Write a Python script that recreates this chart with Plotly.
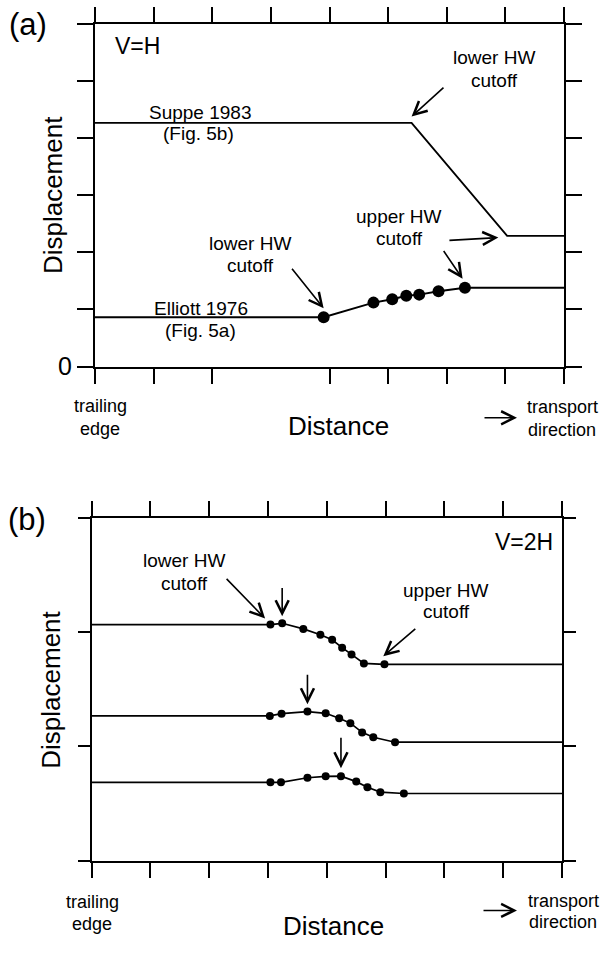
import plotly.graph_objects as go

W, H = 609, 953
FONT = "Liberation Sans, Arial, Helvetica, sans-serif"

# ---------------- data: panel (a) V=H ----------------
a_xticks_bottom = [0, 1, 2, 4, 5, 6, 7, 8]
a_xticks_top = [0, 1, 2, 3, 4, 5, 6, 7, 8]
a_yticks = [0, 1, 2, 3, 4, 5, 6]
a_ytext = ["0", "", "", "", "", "", ""]

suppe_x = [0, 5.40, 7.03, 8]
suppe_y = [4.27, 4.27, 2.29, 2.29]

elliott_x = [0, 3.90, 4.75, 5.07, 5.31, 5.53, 5.86, 6.31, 8]
elliott_y = [0.864, 0.864, 1.12, 1.18, 1.24, 1.26, 1.32, 1.38, 1.38]
elliott_dot_x = [3.90, 4.75, 5.07, 5.31, 5.53, 5.86, 6.31]
elliott_dot_y = [0.864, 1.12, 1.18, 1.24, 1.26, 1.32, 1.38]

# ---------------- data: panel (b) V=2H ----------------
b_xticks = [0, 1, 2, 3, 4, 5, 6, 7, 8]
b_yticks = [0, 1, 2, 3]

top_dot_x = [3.04, 3.24, 3.60, 3.89, 4.09, 4.26, 4.42, 4.63, 4.98]
top_dot_y = [2.067, 2.078, 2.029, 1.978, 1.934, 1.865, 1.805, 1.727, 1.719]
mid_dot_x = [3.03, 3.23, 3.67, 3.98, 4.21, 4.40, 4.60, 4.79, 5.16]
mid_dot_y = [1.267, 1.287, 1.305, 1.290, 1.247, 1.204, 1.123, 1.080, 1.037]
bot_dot_x = [3.04, 3.22, 3.67, 3.98, 4.24, 4.50, 4.69, 4.91, 5.31]
bot_dot_y = [0.686, 0.686, 0.726, 0.738, 0.740, 0.692, 0.643, 0.600, 0.588]
b_x_start, b_x_end = 0, 8


def px(x):
    return x / W


def py(y):
    return 1 - y / H


fig = go.Figure()
LINE = dict(color="black", width=1.9)

fig.add_trace(go.Scatter(x=suppe_x, y=suppe_y, mode="lines", line=LINE,
                         xaxis="x", yaxis="y", hoverinfo="skip", showlegend=False))
fig.add_trace(go.Scatter(x=elliott_x, y=elliott_y, mode="lines", line=LINE,
                         xaxis="x", yaxis="y", hoverinfo="skip", showlegend=False))
fig.add_trace(go.Scatter(x=elliott_dot_x, y=elliott_dot_y, mode="markers",
                         marker=dict(color="black", size=12), cliponaxis=False,
                         xaxis="x", yaxis="y", hoverinfo="skip", showlegend=False))
# invisible trace to carry the top axis of panel (a)
fig.add_trace(go.Scatter(x=[0], y=[0], mode="markers", marker=dict(opacity=0),
                         xaxis="x3", yaxis="y", hoverinfo="skip", showlegend=False))

for dx, dy in [(top_dot_x, top_dot_y), (mid_dot_x, mid_dot_y), (bot_dot_x, bot_dot_y)]:
    lx = [b_x_start] + dx + [b_x_end]
    ly = [dy[0]] + dy + [dy[-1]]
    fig.add_trace(go.Scatter(x=lx, y=ly, mode="lines", line=dict(color="black", width=1.7),
                             xaxis="x2", yaxis="y2", hoverinfo="skip", showlegend=False))
    fig.add_trace(go.Scatter(x=dx, y=dy, mode="markers",
                             marker=dict(color="black", size=8), cliponaxis=False,
                             xaxis="x2", yaxis="y2", hoverinfo="skip", showlegend=False))

AX = dict(showline=True, linecolor="black", linewidth=2, ticks="outside",
          tickcolor="black", tickwidth=2, showgrid=False, zeroline=False)

fig.update_layout(
    width=W, height=H, margin=dict(l=0, r=0, t=0, b=0),
    paper_bgcolor="white", plot_bgcolor="white",
    font=dict(family=FONT, color="black"),
    xaxis=dict(domain=[px(95), px(564)], anchor="y", range=[0, 8],
               tickvals=a_xticks_bottom, ticklen=15, showticklabels=False, **AX),
    xaxis3=dict(overlaying="x", side="top", anchor="y", range=[0, 8],
                tickvals=a_xticks_top, ticklen=15, showticklabels=False, **AX),
    yaxis=dict(domain=[py(372), py(24.5)], anchor="x", range=[0, 6],
               tickvals=a_yticks, ticktext=a_ytext, ticklen=16, mirror="ticks",
               tickfont=dict(size=25, family=FONT, color="black"), **AX),
    xaxis2=dict(domain=[px(91.7), px(562)], anchor="y2", range=[0, 8],
                tickvals=b_xticks, ticklen=15, mirror="ticks", showticklabels=False, **AX),
    yaxis2=dict(domain=[py(873.5), py(525.7)], anchor="x2", range=[0, 3],
                tickvals=b_yticks, ticklen=12, mirror="ticks", showticklabels=False, **AX),
)

ann = []


def text(t, x, y, size, angle=0):
    ann.append(dict(text=t, x=px(x), y=py(y), xref="paper", yref="paper",
                    xanchor="center", yanchor="middle", showarrow=False,
                    textangle=angle, font=dict(size=size, family=FONT, color="black")))


def arrow(xr, yr, x, y, ax, ay):
    ann.append(dict(text="", x=x, y=y, ax=ax, ay=ay, xref=xr, yref=yr,
                    axref=xr, ayref=yr, showarrow=True, arrowhead=5, arrowsize=1.6,
                    arrowwidth=1.6, arrowcolor="black", standoff=0))


def paper_arrow(x0, x1, y):
    ann.append(dict(text="", x=px(x1), y=py(y), xref="paper", yref="paper",
                    ax=x0 - x1, ay=0, showarrow=True, arrowhead=5, arrowsize=1.6,
                    arrowwidth=1.6, arrowcolor="black", standoff=0))


# panel (a) texts
text("(a)", 28, 25, 31)
text("V=H", 137, 47, 23)
text("lower HW", 494, 58, 19)
text("cutoff", 494, 82, 19)
text("Suppe 1983", 200, 114, 19)
text("(Fig. 5b)", 198, 135, 19)
text("upper HW", 399, 220, 19)
text("cutoff", 399, 242, 19)
text("lower HW", 250, 247, 19)
text("cutoff", 250, 269, 19)
text("Elliott 1976", 201, 313, 19)
text("(Fig. 5a)", 200, 335, 19)
text("Displacement", 53, 198, 26, -90)
text("Distance", 338, 432, 26)
text("trailing", 100, 412, 18)
text("edge", 100, 435, 18)
text("transport", 562, 413, 18)
text("direction", 562, 436, 18)
paper_arrow(483, 517, 424)

# panel (a) arrows (data coordinates)
arrow("x", "y", 5.40, 4.38, 5.97, 4.91)
arrow("x", "y", 6.88, 2.26, 6.02, 2.21)
arrow("x", "y", 6.27, 1.54, 5.93, 2.05)
arrow("x", "y", 3.90, 1.02, 3.34, 1.74)

# panel (b) texts
text("(b)", 27, 527, 31)
text("V=2H", 524, 550, 23)
text("lower HW", 184, 569, 19)
text("cutoff", 184, 592, 19)
text("upper HW", 446, 599, 19)
text("cutoff", 446, 621, 19)
text("Displacement", 51, 700, 26, -90)
text("Distance", 333, 940, 26)
text("trailing", 92, 915, 18)
text("edge", 92, 938, 18)
text("transport", 563, 914, 18)
text("direction", 563, 936, 18)
paper_arrow(482, 517, 924)

# panel (b) arrows
arrow("x2", "y2", 2.95, 2.12, 2.27, 2.48)
arrow("x2", "y2", 3.24, 2.14, 3.24, 2.40)
arrow("x2", "y2", 4.96, 1.79, 5.53, 2.04)
arrow("x2", "y2", 3.67, 1.37, 3.67, 1.64)
arrow("x2", "y2", 4.24, 0.81, 4.24, 1.09)

fig.update_layout(annotations=ann)
fig.write_html(
    "out.html",
    config={"displayModeBar": False},
    post_script="document.body.style.margin='0';document.body.style.overflow='hidden';",
)
